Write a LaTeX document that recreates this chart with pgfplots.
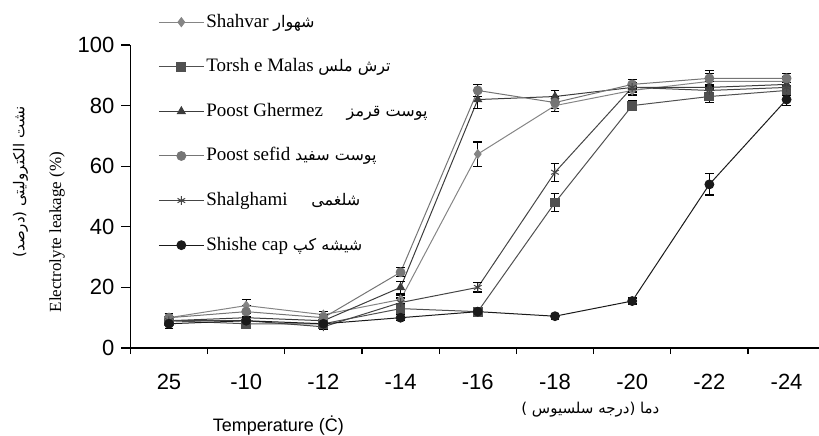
\documentclass[border=0pt]{standalone}
\usepackage{fontspec}
\setmainfont{Liberation Sans}
\newfontfamily\serif{Liberation Serif}
\newfontfamily\fa[Script=Arabic]{DejaVu Sans}
\TeXXeTstate=1
\usepackage{pgfplots}
\pgfplotsset{compat=1.18}

\definecolor{cshahvar}{HTML}{858585}
\definecolor{ctorsh}{HTML}{505050}
\definecolor{cghermez}{HTML}{3C3C3C}
\definecolor{csefid}{HTML}{757575}
\definecolor{cshal}{HTML}{454545}
\definecolor{cshishe}{HTML}{1A1A1A}

\pgfplotsset{
  ser/.style={line width=0.5pt, mark size=2.2pt,
    /pgfplots/error bars/y dir=both,
    /pgfplots/error bars/y explicit,
    /pgfplots/error bars/error bar style={line width=0.5pt, black},
    /pgfplots/error bars/error mark options={rotate=90, mark size=2.2pt, line width=0.6pt, black}},
}

\begin{document}
\begin{tikzpicture}
\begin{axis}[
  at={(0,0)}, anchor=south west, name=ax,
  scale only axis, width=344.3pt, height=151.5pt,
  xmin=-0.5, xmax=8.42, ymin=0, ymax=100,
  axis x line*=bottom, axis y line*=left,
  axis line style={-, line width=0.7pt},
  xtick={0,...,8},
  xticklabels={25,-10,-12,-14,-16,-18,-20,-22,-24},
  major x tick style={draw=none},
  minor xtick={-0.5,0.5,...,7.5},
  ytick={0,20,...,100},
  tick align=outside, major tick length=4.5pt, minor tick length=3pt,
  tick style={black, line width=0.6pt},
  ticklabel style={font=\fontsize{11}{13}\selectfont},
  xticklabel style={yshift=-5pt},
  /pgf/number format/assume math mode=true,
  clip=false,
  legend cell align=left,
  legend style={at={(0.040,1.113)}, anchor=north west, inner sep=0pt,
    draw=none, fill=none, row sep=11.3pt,
    font=\serif\fontsize{9.5}{11}\selectfont,
    nodes={inner sep=1pt, text height=7pt, text depth=2pt}},
  legend image code/.code={\draw[mark repeat=2,mark phase=2]
    plot coordinates {(0pt,0pt) (11.25pt,0pt) (22.5pt,0pt)};},
]
\addplot[color=cshahvar, mark=diamond*, ser] coordinates {
  (0,10) +- (0,1.5) (1,14) +- (0,2) (2,11) +- (0,1) (3,16) +- (0,1.5)
  (4,64) +- (0,4) (5,80) +- (0,2) (6,85) +- (0,1.5) (7,88) +- (0,2.5) (8,88) +- (0,1.5)
};
\addlegendentry{Shahvar {\fa\fontsize{8}{9}\selectfont\beginR شهوار\endR}}
\addplot[color=ctorsh, mark=square*, ser] coordinates {
  (0,9) +- (0,1.5) (1,8) +- (0,1.5) (2,8) +- (0,1) (3,13) +- (0,1.5)
  (4,12) +- (0,1.5) (5,48) +- (0,3) (6,80) +- (0,1.5) (7,83) +- (0,2) (8,85) +- (0,1.5)
};
\addlegendentry{Torsh e Malas {\fa\fontsize{8}{9}\selectfont\beginR ترش ملس\endR}}
\addplot[color=cghermez, mark=triangle*, ser] coordinates {
  (0,9) +- (0,1.5) (1,10) +- (0,1.5) (2,9) +- (0,1) (3,20) +- (0,2)
  (4,82) +- (0,3) (5,83) +- (0,2) (6,86) +- (0,1.5) (7,86) +- (0,2) (8,87) +- (0,1.5)
};
\addlegendentry{Poost Ghermez \quad{\fa\fontsize{8}{9}\selectfont\beginR پوست قرمز\endR}}
\addplot[color=csefid, mark=*, ser] coordinates {
  (0,10) +- (0,1.5) (1,12) +- (0,2) (2,10) +- (0,1) (3,25) +- (0,1.5)
  (4,85) +- (0,2) (5,81) +- (0,2) (6,87) +- (0,1.5) (7,89) +- (0,2.5) (8,89) +- (0,1.5)
};
\addlegendentry{Poost sefid {\fa\fontsize{8}{9}\selectfont\beginR پوست سفید\endR}}
\addplot[color=cshal, mark=asterisk, ser] coordinates {
  (0,9) +- (0,1.5) (1,9) +- (0,1.5) (2,7) +- (0,1) (3,15) +- (0,1.5)
  (4,20) +- (0,1.5) (5,58) +- (0,3) (6,86) +- (0,1.5) (7,85) +- (0,2) (8,86) +- (0,1.5)
};
\addlegendentry{Shalghami \quad{\fa\fontsize{8}{9}\selectfont\beginR شلغمی\endR}}
\addplot[color=cshishe, mark=*, ser] coordinates {
  (0,8) +- (0,1.5) (1,9) +- (0,1.5) (2,8) +- (0,1) (3,10) +- (0,1)
  (4,12) +- (0,1) (5,10.5) +- (0,1) (6,15.5) +- (0,1) (7,54) +- (0,3.5) (8,82) +- (0,2)
};
\addlegendentry{Shishe cap {\fa\fontsize{8}{9}\selectfont\beginR شیشه کپ\endR}}
\end{axis}
\node[rotate=90, font=\serif\fontsize{8.5}{10}\selectfont] at (-36.7pt,58pt) {Electrolyte leakage (\%)};
\node[rotate=90, font=\fa\fontsize{7.5}{9}\selectfont] at (-55pt,83pt) {\beginR نشت الکترولیتی (درصد)\endR};
\node[font=\fontsize{9}{11}\selectfont] at (74pt,-39pt) {Temperature (Ċ)};
\node[font=\fa\fontsize{7.5}{9}\selectfont] at (230pt,-31pt) {\beginR دما (درجه سلسیوس )\endR};
\pgfresetboundingbox
\path (-65.2pt,-43.5pt) rectangle (344.3pt,174pt);
\end{tikzpicture}
\end{document}
